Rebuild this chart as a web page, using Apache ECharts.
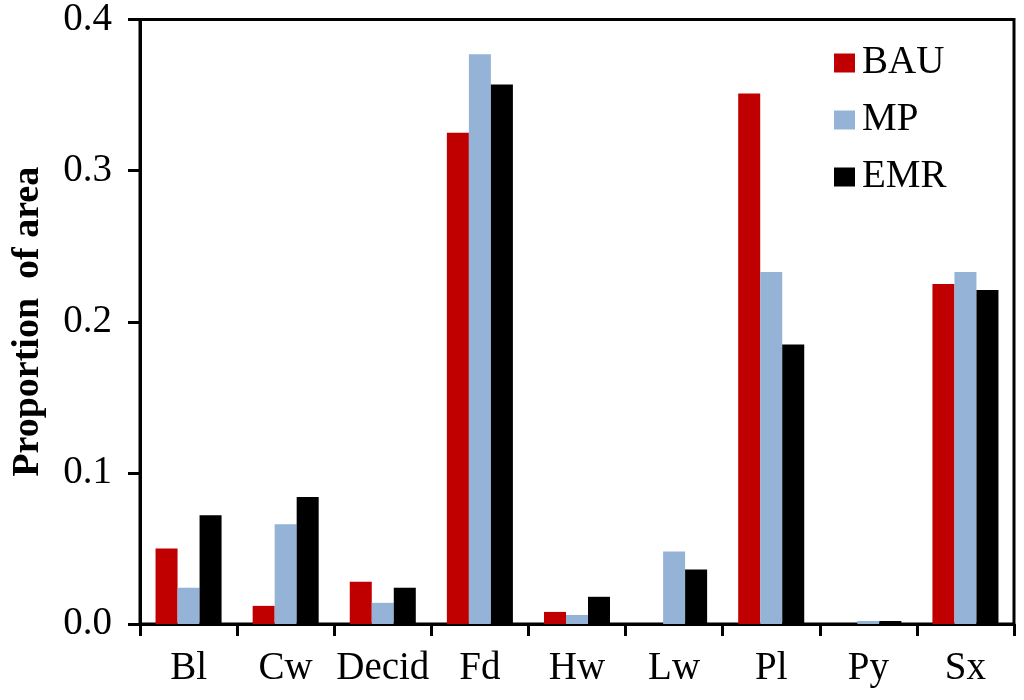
<!DOCTYPE html>
<html>
<head>
<meta charset="utf-8">
<script src="https://cdn.jsdelivr.net/npm/echarts@6/dist/echarts.min.js"></script>
<style>
html,body{margin:0;padding:0;background:#fff;}
#chart{width:1024px;height:700px;}
</style>
</head>
<body>
<div id="chart"></div>
<script>
const categories = ['Bl', 'Cw', 'Decid', 'Fd', 'Hw', 'Lw', 'Pl', 'Py', 'Sx'];
const seriesNames = ['BAU', 'MP', 'EMR'];
const bau = [0.050, 0.012, 0.028, 0.325, 0.008, 0.0, 0.351, 0.0, 0.225];
const mp  = [0.024, 0.066, 0.014, 0.377, 0.006, 0.048, 0.233, 0.002, 0.233];
const emr = [0.072, 0.084, 0.024, 0.357, 0.018, 0.036, 0.185, 0.002, 0.221];
const colors = ['#C00000', '#95B3D7', '#000000'];
const yTicks = { min: 0, max: 0.4, interval: 0.1 };

const font = 'Liberation Serif, Times New Roman, Times, serif';
const chart = echarts.init(document.getElementById('chart'));
const dataSets = [bau, mp, emr];
chart.setOption({
  animation: false,
  backgroundColor: '#fff',
  grid: {
    left: 140, right: 10, top: 19, bottom: 76,
    show: true, borderColor: '#000', borderWidth: 3, backgroundColor: 'transparent'
  },
  legend: {
    orient: 'vertical',
    left: 829, top: 38,
    itemWidth: 21, itemHeight: 19, itemGap: 17,
    icon: 'rect',
    textStyle: { fontFamily: font, fontSize: 39, color: '#000', lineHeight: 40, padding: [0, 0, 0, 2] },
    data: seriesNames
  },
  xAxis: {
    type: 'category',
    data: categories,
    axisLine: { lineStyle: { color: '#000', width: 3 } },
    axisTick: { show: true, length: 12, lineStyle: { color: '#000', width: 3 } },
    axisLabel: { fontFamily: font, fontSize: 39, color: '#000', margin: 25, interval: 0 },
    splitLine: { show: false }
  },
  yAxis: {
    type: 'value',
    min: yTicks.min, max: yTicks.max, interval: yTicks.interval,
    name: 'Proportion  of area',
    nameLocation: 'middle',
    nameGap: 93,
    nameTextStyle: { fontFamily: font, fontSize: 38, fontWeight: 'bold', color: '#000' },
    axisLine: { show: true, lineStyle: { color: '#000', width: 3 } },
    axisTick: { show: true, length: 12, lineStyle: { color: '#000', width: 3 } },
    axisLabel: { fontFamily: font, fontSize: 39, color: '#000', margin: 28, formatter: v => v.toFixed(1) },
    splitLine: { show: false }
  },
  series: seriesNames.map((n, i) => ({
    name: n,
    type: 'bar',
    data: dataSets[i],
    barGap: '0%',
    barCategoryGap: '32%',
    itemStyle: { color: colors[i] }
  }))
});
</script>
</body>
</html>
